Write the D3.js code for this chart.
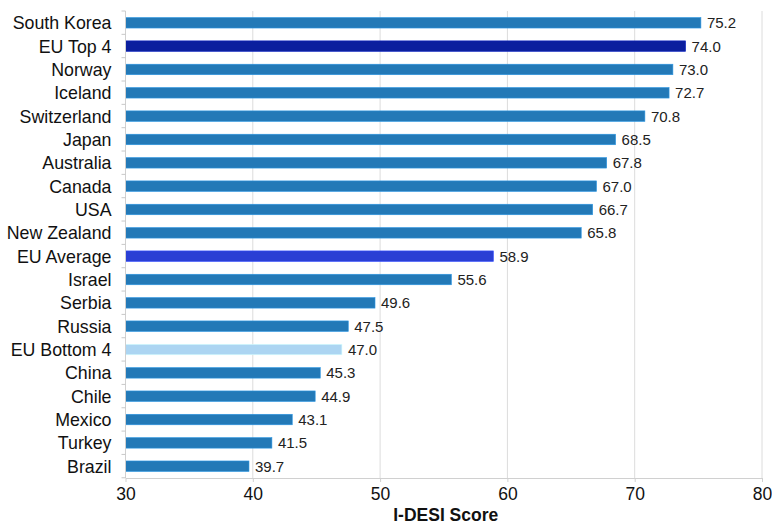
<!DOCTYPE html>
<html>
<head>
<meta charset="utf-8">
<script src="https://cdn.jsdelivr.net/npm/d3@7"></script>
<style>
  html, body { margin: 0; padding: 0; background: #fff; }
  svg { display: block; font-family: "Liberation Sans", Arial, Helvetica, sans-serif; }
</style>
</head>
<body>
<svg id="chart" width="772" height="525"></svg>
<script>
// I-DESI scores by country / EU aggregate
const countries = ["South Korea", "EU Top 4", "Norway", "Iceland", "Switzerland", "Japan",
  "Australia", "Canada", "USA", "New Zealand", "EU Average", "Israel", "Serbia", "Russia",
  "EU Bottom 4", "China", "Chile", "Mexico", "Turkey", "Brazil"];
const scores = [75.2, 74.0, 73.0, 72.7, 70.8, 68.5, 67.8, 67.0, 66.7, 65.8, 58.9, 55.6,
  49.6, 47.5, 47.0, 45.3, 44.9, 43.1, 41.5, 39.7];
const xTicks = [30, 40, 50, 60, 70, 80];
const axisTitle = "I-DESI Score";

// Colour per bar: EU aggregates are highlighted
const highlight = {
  "EU Top 4": "#0b1f9e",
  "EU Average": "#2a3fd4",
  "EU Bottom 4": "#acd5f2"
};
const baseColor = "#2379b7";

const svg = d3.select("#chart");
const margin = { top: 11, right: 10, bottom: 47, left: 125.5 };
const width = 762 - margin.left;
const height = 478 - margin.top;

const x = d3.scaleLinear().domain([30, 80]).range([0, width]);
const y = d3.scaleBand().domain(countries).range([0, height]).paddingInner(0.55).paddingOuter(0.28);

const g = svg.append("g").attr("transform", `translate(${margin.left},${margin.top})`);

// vertical gridlines
g.selectAll("line.grid").data(xTicks.slice(1)).enter().append("line")
  .attr("class", "grid")
  .attr("x1", d => x(d)).attr("x2", d => x(d))
  .attr("y1", 0).attr("y2", height)
  .attr("stroke", "#dcdcdc").attr("stroke-width", 1);

// bars
const data = countries.map((c, i) => ({ name: c, value: scores[i] }));
g.selectAll("rect.bar").data(data).enter().append("rect")
  .attr("class", "bar")
  .attr("x", x(30))
  .attr("y", d => y(d.name))
  .attr("width", d => x(d.value) - x(30))
  .attr("height", y.bandwidth())
  .attr("fill", d => highlight[d.name] || baseColor)
  .attr("stroke", d => d3.color(highlight[d.name] || baseColor).brighter(0.6))
  .attr("stroke-width", 0.6);

// value labels
g.selectAll("text.val").data(data).enter().append("text")
  .attr("class", "val")
  .attr("x", d => x(d.value) + 6)
  .attr("y", d => y(d.name) + y.bandwidth() / 2)
  .attr("dy", "0.36em")
  .attr("font-size", 15)
  .attr("fill", "#222")
  .text(d => d.value.toFixed(1));

// y axis: category labels with ticks between bands
const yAxis = g.append("g");
yAxis.append("line")
  .attr("x1", 0).attr("x2", 0).attr("y1", 0).attr("y2", height)
  .attr("stroke", "#d0d0d0");
const step = y.step();
d3.range(countries.length + 1).forEach(i => {
  yAxis.append("line")
    .attr("x1", -4).attr("x2", 0)
    .attr("y1", i * step).attr("y2", i * step)
    .attr("stroke", "#c8c8c8");
});
yAxis.selectAll("text").data(countries).enter().append("text")
  .attr("x", -14)
  .attr("y", d => y(d) + y.bandwidth() / 2)
  .attr("dy", "0.36em")
  .attr("text-anchor", "end")
  .attr("font-size", 17.8)
  .attr("fill", "#111")
  .text(d => d);

// x axis
const xAxis = g.append("g").attr("transform", `translate(0,${height})`)
  .call(d3.axisBottom(x).tickValues(xTicks).tickSize(4).tickSizeOuter(0).tickFormat(d3.format("d")));
xAxis.select(".domain").attr("stroke", "#d0d0d0");
xAxis.selectAll(".tick line").attr("stroke", "#d0d0d0");
xAxis.selectAll(".tick text")
  .attr("font-size", 17.5)
  .attr("fill", "#111")
  .attr("y", 10)
  .attr("dy", "0.71em")
  .attr("font-family", "Liberation Sans, Arial, sans-serif");

// axis title
svg.append("text")
  .attr("x", margin.left + width / 2 + 2)
  .attr("y", 521)
  .attr("text-anchor", "middle")
  .attr("font-size", 17.5)
  .attr("font-weight", "bold")
  .attr("fill", "#111")
  .text(axisTitle);
</script>
</body>
</html>
